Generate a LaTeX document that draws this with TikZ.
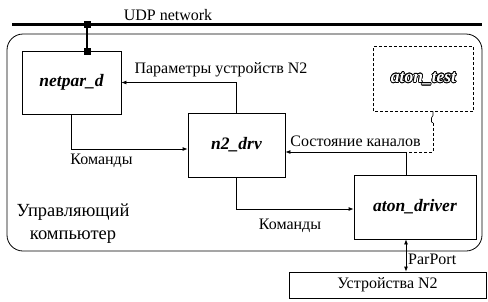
\documentclass[tikz,border=0pt]{standalone}
\usepackage{fontspec}
\setmainfont{Liberation Serif}
\usepackage[copies]{contour}
\usetikzlibrary{arrows.meta}
\contourlength{0.7pt}
\tikzset{
  box/.style={draw, line width=0.8pt, inner sep=0pt, font=\fontsize{17.5}{20}\selectfont\bfseries\itshape},
  lbl/.style={font=\fontsize{16}{19}\selectfont, inner sep=0pt},
  conn/.style={line width=0.8pt},
  arr/.style={conn, -{Latex[length=5pt,width=4pt]}},
  dsh/.style={line width=0.8pt, dash pattern=on 3pt off 2pt},
  sq/.style={fill=black, inner sep=0pt, minimum size=7pt},
}
\begin{document}
\begin{tikzpicture}[x=1pt,y=-1pt]
\useasboundingbox (0,0) rectangle (488,301);
% network
\draw[line width=2.6pt] (12,24.5) coordinate (udpL) -- (482,24.5) coordinate (udpR);
\node[lbl] (udp) at (168,15) {UDP network};
% outer computer box
\draw[line width=0.8pt, rounded corners=16pt] (7,34) rectangle (482,251);
\node[lbl, align=center, font=\fontsize{18.5}{23}\selectfont] (comp) at (73,224) {Управляющий\\компьютер};
% nodes
\node[box, minimum width=99pt, minimum height=63pt] (netpar) at (71.5,82.5) {netpar\_d};
\node[box, minimum width=97pt, minimum height=64pt] (n2) at (236.5,145) {n2\_drv};
\node[box, draw=none, minimum width=99pt, minimum height=64pt] (atest) at (423.5,79) {{\color{white}\contour{black}{aton\_test}}};
\draw[dsh] (atest.south west) rectangle (atest.north east);
\node[box, minimum width=122pt, minimum height=64pt] (ad) at (415,207) {aton\_driver};
\node[draw, line width=0.8pt, minimum width=197pt, minimum height=26pt, inner sep=0pt, font=\fontsize{16}{19}\selectfont] (ustr) at (387.5,285) {Устройства N2};
% network tap
\coordinate (tap) at (87,24.5);
\draw[line width=2.6pt] (tap) -- ([xshift=15.5pt]netpar.north);
\node[sq] at (tap) {};
\node[sq] at ([xshift=15.5pt,yshift=-1pt]netpar.north) {};
% connectors
\draw[arr] (n2.north) |- (netpar.east);
\node[lbl] (lpar) at (221,70) {Параметры устройств N2};
\draw[arr] (netpar.south) |- ([yshift=-4pt]n2.west);
\node[lbl] (lcmd1) at (101.5,161) {Команды};
\draw[arr] (n2.south) |- ([yshift=-2pt]ad.west);
\node[lbl] (lcmd2) at (290,226) {Команды};
\draw[arr] ([xshift=-9pt]ad.north) |- ([yshift=-7pt]n2.east);
\node[lbl] (lstate) at (355.5,141) {Состояние каналов};
% dashed link from aton_test
\coordinate (bend) at ([xshift=-9pt]ad.north |- 0,152);
\draw[conn, line width=0.6pt] ([xshift=9.5pt]atest.south) -- ++(0,4) -- ++(-1.5,2.5) -- ++(0,4) -- ++(1.5,1);
\draw[dsh] ([xshift=9.5pt,yshift=-11.5pt]atest.south) -- (433,152) -- (bend);
% parport
\draw[conn, {Latex[length=5pt,width=4pt]}-{Latex[length=5pt,width=4pt]}] ([xshift=-9pt]ad.south) -- ([xshift=-9pt]ad.south |- ustr.north);
\node[lbl, anchor=west] (lpp) at (408,259) {ParPort};
\end{tikzpicture}
\end{document}
